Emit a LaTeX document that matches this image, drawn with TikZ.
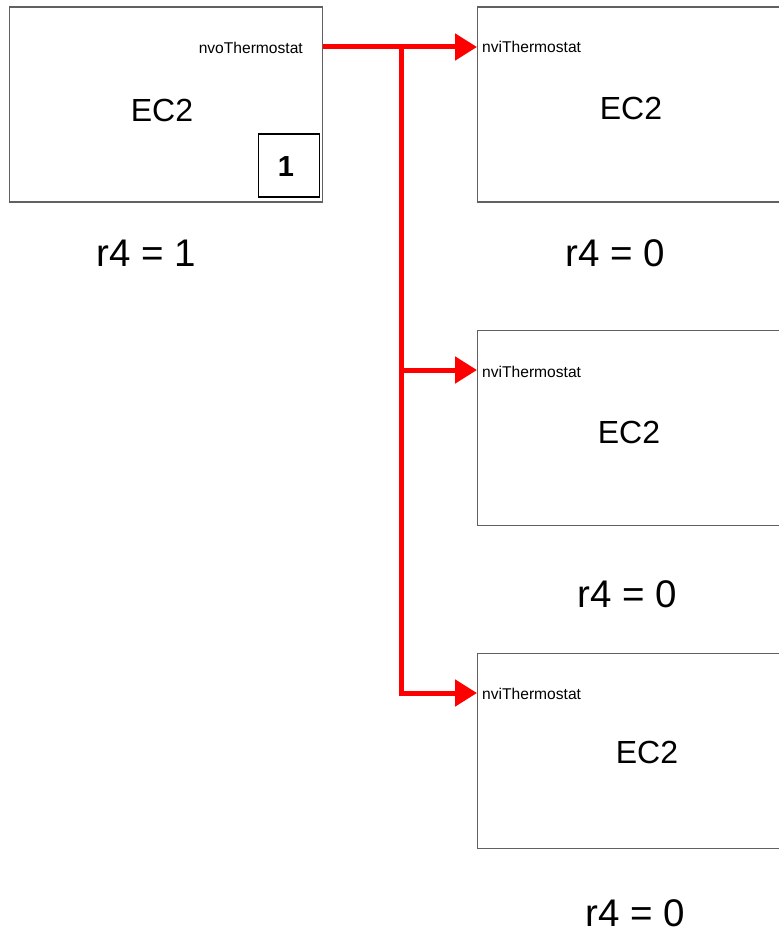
\documentclass[tikz,border=0pt]{standalone}
\usepackage{fontspec}
\setmainfont{Liberation Sans}
\usetikzlibrary{arrows.meta}

\tikzset{
  block/.style={draw=black!62, line width=1.2pt, rectangle, inner sep=0pt,
                minimum width=313pt, minimum height=195pt, anchor=north west},
  badge/.style={draw=black, line width=1.8pt, rectangle, inner sep=0pt,
                minimum width=61pt, minimum height=63pt, anchor=north west},
  port/.style={inner sep=0pt, font=\fontsize{15.6pt}{16pt}\selectfont},
  title/.style={inner sep=0pt, font=\fontsize{32pt}{34pt}\selectfont},
  reg/.style={inner sep=0pt, font=\fontsize{38.5pt}{40pt}\selectfont},
  num/.style={inner sep=0pt, font=\fontsize{29pt}{30pt}\selectfont\bfseries},
  wire/.style={draw={rgb,255:red,255;green,0;blue,0}, line width=5pt, line join=miter},
  tip/.style={-{Triangle[length=22pt,width=26pt]}},
}

\begin{document}
\begin{tikzpicture}[x=1pt, y=-1pt]
  \useasboundingbox[fill=white] (0,0) rectangle (778,933);

  % sending controller
  \node[block] (src) at (8.5,6.5) {};
  \node[badge] (bdg) at (257.5,133.5) {};
  \node[num] (one) at (286,166.5) {1};
  \node[title] (srcname) at (162,110.5) {EC2};
  \node[port, anchor=east] (po) at (303,47.5) {nvoThermostat};
  \node[reg] (r0) at (146,253.5) {r4 = 1};

  % receiving controllers
  \node[block, minimum width=330pt] (dst1) at (477,6.5) {};
  \node[title] (n1) at (631,108.5) {EC2};
  \node[port, anchor=west] (pi1) at (482,47) {nviThermostat};
  \node[reg] (r1) at (615.5,253.5) {r4 = 0};

  \node[block, minimum width=330pt] (dst2) at (477,329.5) {};
  \node[title] (n2) at (629,432) {EC2};
  \node[port, anchor=west] (pi2) at (482,371.5) {nviThermostat};
  \node[reg] (r2) at (627.5,594) {r4 = 0};

  \node[block, minimum width=330pt] (dst3) at (477,652.5) {};
  \node[title] (n3) at (647,752) {EC2};
  \node[port, anchor=west] (pi3) at (482,694) {nviThermostat};
  \node[reg] (r3) at (635,913.5) {r4 = 0};

  % binding wires
  \coordinate (j) at (401.5,47);
  \draw[wire, tip] (src.east |- j) -- (dst1.west |- j);
  \draw[wire] (j) -- (j |- 0,370);
  \draw[wire, tip] (j |- 0,370) -- (dst2.west |- 0,370);
  \draw[wire, tip] (j |- 0,368) |- (dst3.west |- 0,693);
\end{tikzpicture}
\end{document}
